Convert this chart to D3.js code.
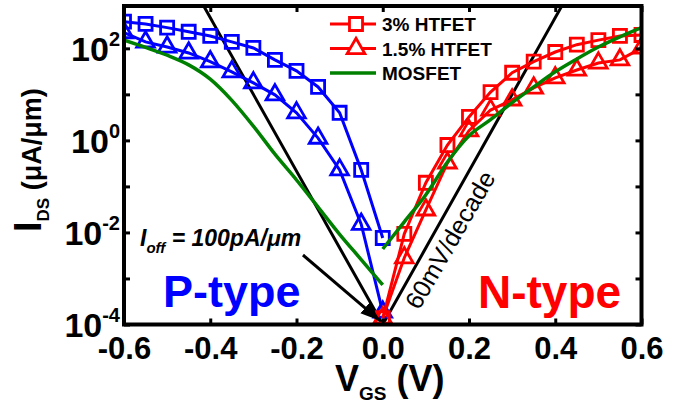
<!DOCTYPE html>
<html>
<head>
<meta charset="utf-8">
<script src="https://cdn.jsdelivr.net/npm/d3@7"></script>
<style>
  body { margin: 0; background: #fff; }
  svg { display: block; font-family: Arial, "Liberation Sans", sans-serif; }
</style>
</head>
<body>
<svg width="679" height="403"></svg>
<script>
// gate voltages (V)
var vgsP = [-0.6, -0.55, -0.5, -0.45, -0.4, -0.35, -0.3, -0.25, -0.2, -0.15, -0.1, -0.05, 0.0];
var vgsN = [0.0, 0.05, 0.1, 0.15, 0.2, 0.25, 0.3, 0.35, 0.4, 0.45, 0.5, 0.55, 0.6];

// drain current (uA/um)
var htfet3P = [380, 339, 282, 229, 186, 138, 102, 56.2, 32.4, 14.5, 3.98, 0.229, 0.00759];
var htfet15P = [219, 138, 107, 79.4, 51.3, 30.9, 17.8, 9.77, 3.98, 1.12, 0.229, 0.0151, 0.000186];
var mosfetP = [151, 105, 70.8, 43.7, 21.4, 7.41, 2.04, 0.501, 0.138, 0.0355, 0.00912, 0.00257, 0.000724];

var htfet3N = [0.000138, 0.00933, 0.120, 0.794, 3.24, 11.2, 29.5, 51.3, 83.2, 120, 151, 186, 195];
var htfet15N = [0.000138, 0.00282, 0.0309, 0.324, 1.62, 4.57, 7.59, 13.8, 22.9, 33.9, 47.9, 56.2, 102];
var mosfetN = [0.00437, 0.0170, 0.0661, 0.339, 1.26, 2.82, 6.61, 14.5, 30.9, 58.9, 107, 178, 282];

// 60 mV/decade reference lines from Ioff = 100 pA/um
var slopeLineP = [[0, 1e-4], [-0.42, 1e3]];
var slopeLineN = [[0, 1e-4], [0.42, 1e3]];

var xTicks = [-0.6, -0.4, -0.2, 0, 0.2, 0.4, 0.6];
var yTicks = [1e-4, 1e-3, 1e-2, 1e-1, 1e0, 1e1, 1e2];
var yLabelExp = [-4, -2, 0, 2];

var legendItems = [
  { label: "3% HTFET", color: "#ff0000", symbol: "square" },
  { label: "1.5% HTFET", color: "#ff0000", symbol: "triangle" },
  { label: "MOSFET", color: "#008000", symbol: null }
];

var svg = d3.select("svg"),
  plotLeft = 124,
  plotRight = 641.5,
  plotTop = 6,
  plotBottom = 324.5;

var x = d3.scaleLinear().domain([-0.6, 0.6]).range([plotLeft, plotRight]);
var y = d3.scaleLog().domain([1e-4, Math.pow(10, 2.92)]).range([plotBottom, plotTop]);

function pairs(xs, ys) {
  return xs.map(function(v, i) {
    return [v, ys[i]];
  });
}

var line = d3
  .line()
  .x(function(d) {
    return x(d[0]);
  })
  .y(function(d) {
    return y(d[1]);
  });

var smooth = d3
  .line()
  .curve(d3.curveMonotoneX)
  .x(function(d) {
    return x(d[0]);
  })
  .y(function(d) {
    return y(d[1]);
  });

var square = d3.symbol().type(d3.symbolSquare).size(170),
  triangle = d3.symbol().type(d3.symbolTriangle).size(135);

var defs = svg.append("defs");
defs
  .append("clipPath")
  .attr("id", "plot-clip")
  .append("rect")
  .attr("x", plotLeft)
  .attr("y", plotTop)
  .attr("width", plotRight - plotLeft)
  .attr("height", plotBottom - plotTop);

defs
  .append("marker")
  .attr("id", "arrowhead")
  .attr("markerUnits", "userSpaceOnUse")
  .attr("markerWidth", 24)
  .attr("markerHeight", 16)
  .attr("refX", 20)
  .attr("refY", 7)
  .attr("orient", "auto")
  .append("path")
  .attr("d", "M0,0 L20,7 L0,14 Z")
  .attr("fill", "#000");

var plot = svg.append("g").attr("clip-path", "url(#plot-clip)");

// reference slope lines
[slopeLineP, slopeLineN].forEach(function(s) {
  plot
    .append("path")
    .attr("d", line(s))
    .attr("fill", "none")
    .attr("stroke", "#000")
    .attr("stroke-width", 3);
});

// Ioff arrow
svg
  .append("line")
  .attr("x1", x(-0.185))
  .attr("y1", y(Math.pow(10, -2.49)))
  .attr("x2", x(-0.006))
  .attr("y2", y(Math.pow(10, -3.92)))
  .attr("stroke", "#000")
  .attr("stroke-width", 3)
  .attr("marker-end", "url(#arrowhead)");

function drawSeries(data, color, sym) {
  plot
    .append("path")
    .attr("d", line(data))
    .attr("fill", "none")
    .attr("stroke", color)
    .attr("stroke-width", 3);
  plot
    .append("g")
    .selectAll("path")
    .data(data)
    .enter()
    .append("path")
    .attr("d", sym)
    .attr("transform", function(d) {
      return "translate(" + x(d[0]) + "," + y(d[1]) + ")";
    })
    .attr("fill", "none")
    .attr("stroke", color)
    .attr("stroke-width", 2.8);
}

drawSeries(pairs(vgsP, htfet3P), "#0000ff", square);
drawSeries(pairs(vgsP, htfet15P), "#0000ff", triangle);
drawSeries(pairs(vgsN, htfet3N), "#ff0000", square);
drawSeries(pairs(vgsN, htfet15N), "#ff0000", triangle);

[mosfetP, mosfetN].forEach(function(m, i) {
  plot
    .append("path")
    .attr("d", smooth(pairs(i === 0 ? vgsP : vgsN, m)))
    .attr("fill", "none")
    .attr("stroke", "#008000")
    .attr("stroke-width", 3.5);
});

// axes: inward ticks on all four sides
function styleTicks(g) {
  g.select(".domain").remove();
  g.selectAll(".tick line").attr("stroke", "#000").attr("stroke-width", 3);
}

var xAxis = svg
  .append("g")
  .attr("transform", "translate(0," + plotBottom + ")")
  .call(
    d3
      .axisBottom(x)
      .tickValues(xTicks)
      .tickSize(-6)
      .tickPadding(12.5)
      .tickFormat(function(d) {
        return d.toFixed(1);
      })
  );
styleTicks(xAxis);
xAxis
  .selectAll("text")
  .attr("font-size", 31)
  .attr("font-weight", "bold")
  .attr("font-family", "Arial, 'Liberation Sans', sans-serif")
  .attr("fill", "#000");

svg
  .append("g")
  .attr("transform", "translate(0," + plotTop + ")")
  .call(d3.axisTop(x).tickValues(xTicks).tickSize(-6).tickFormat(""))
  .call(styleTicks);

svg
  .append("g")
  .attr("transform", "translate(" + plotLeft + ",0)")
  .call(d3.axisLeft(y).tickValues(yTicks).tickSize(-6).tickFormat(""))
  .call(styleTicks);

svg
  .append("g")
  .attr("transform", "translate(" + plotRight + ",0)")
  .call(d3.axisRight(y).tickValues(yTicks).tickSize(-6).tickFormat(""))
  .call(styleTicks);

// y tick labels as 10^n
var yLab = svg
  .append("g")
  .selectAll("text")
  .data(yLabelExp)
  .enter()
  .append("text")
  .attr("x", 120)
  .attr("y", function(d) {
    return y(Math.pow(10, d)) + 12.5;
  })
  .attr("text-anchor", "end")
  .attr("font-weight", "bold");
yLab
  .append("tspan")
  .attr("font-size", 34)
  .text("10");
yLab
  .append("tspan")
  .attr("font-size", 20)
  .attr("dy", -15)
  .text(function(d) {
    return String(d);
  });

// frame
svg
  .append("rect")
  .attr("x", plotLeft)
  .attr("y", plotTop)
  .attr("width", plotRight - plotLeft)
  .attr("height", plotBottom - plotTop)
  .attr("fill", "none")
  .attr("stroke", "#000")
  .attr("stroke-width", 4);

// axis titles
var xTitle = svg
  .append("text")
  .attr("x", 335)
  .attr("y", 391)
  .attr("font-weight", "bold");
xTitle.append("tspan").attr("font-size", 36).text("V");
xTitle
  .append("tspan")
  .attr("font-size", 19)
  .attr("dy", 9)
  .text("GS");
xTitle
  .append("tspan")
  .attr("font-size", 36)
  .attr("dy", -9)
  .text(" (V)");

var yTitle = svg
  .append("text")
  .attr("transform", "translate(41,232) rotate(-90)")
  .attr("font-weight", "bold");
yTitle.append("tspan").attr("font-size", 38).text("I");
yTitle
  .append("tspan")
  .attr("font-size", 17)
  .attr("dy", 8)
  .text("DS");
yTitle
  .append("tspan")
  .attr("font-size", 27)
  .attr("dy", -8)
  .text(" (\u03bcA/\u03bcm)");

// annotations
var ioff = svg
  .append("text")
  .attr("x", 140)
  .attr("y", 246)
  .attr("font-weight", "bold")
  .attr("font-style", "italic");
ioff.append("tspan").attr("font-size", 23).text("I");
ioff
  .append("tspan")
  .attr("font-size", 15)
  .attr("dy", 7)
  .text("off");
ioff
  .append("tspan")
  .attr("font-size", 23)
  .attr("dy", -7)
  .text(" = 100pA/\u03bcm");

svg
  .append("text")
  .attr("x", 163)
  .attr("y", 307)
  .attr("font-size", 45)
  .attr("font-weight", "bold")
  .attr("fill", "#0000ff")
  .text("P-type");

svg
  .append("text")
  .attr("x", 478)
  .attr("y", 308)
  .attr("font-size", 46)
  .attr("font-weight", "bold")
  .attr("fill", "#ff0000")
  .text("N-type");

svg
  .append("text")
  .attr("transform", "translate(419,311) rotate(-60)")
  .attr("font-size", 25)
  .attr("fill", "#000")
  .text("60mV/decade");

// legend
var legend = svg
  .append("g")
  .selectAll("g")
  .data(legendItems)
  .enter()
  .append("g")
  .attr("transform", function(d, i) {
    return "translate(0," + (24 + i * 24.5) + ")";
  });
legend
  .append("line")
  .attr("x1", 330)
  .attr("x2", 376)
  .attr("stroke", function(d) {
    return d.color;
  })
  .attr("stroke-width", function(d) {
    return d.symbol ? 3 : 3.5;
  });
legend
  .filter(function(d) {
    return d.symbol;
  })
  .append("path")
  .attr("transform", "translate(356,0)")
  .attr("d", function(d) {
    return d.symbol === "square" ? square() : triangle();
  })
  .attr("fill", "#fff")
  .attr("stroke", function(d) {
    return d.color;
  })
  .attr("stroke-width", 2.8);
legend
  .append("text")
  .attr("x", 382)
  .attr("y", 7)
  .attr("font-size", 19)
  .attr("font-weight", "bold")
  .text(function(d) {
    return d.label;
  });
</script>
</body>
</html>
